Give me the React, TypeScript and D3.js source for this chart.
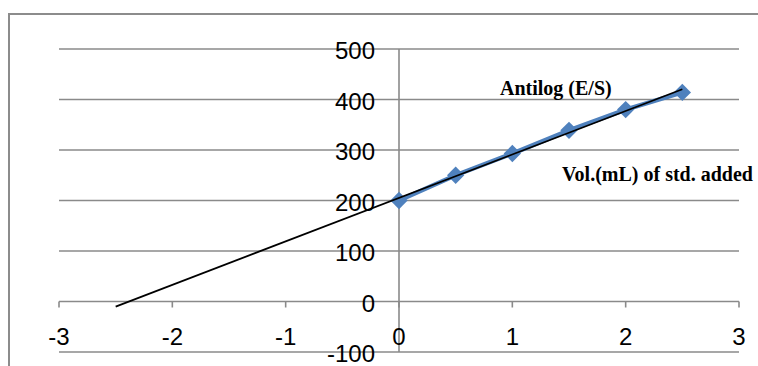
import React from "react";
import * as d3 from "d3";

const volumes = [0, 0.5, 1, 1.5, 2, 2.5];
const antilogValues = [200, 250, 293, 339, 380, 414];
const xTicks = [-3, -2, -1, 0, 1, 2, 3];
const yTicks = [-100, 0, 100, 200, 300, 400, 500];
const trendFrom = -2.5;
const trendTo = 2.5;
const seriesLabel = "Antilog (E/S)";
const axisLabel = "Vol.(mL) of std. added";

export default function App() {
  const W = 758;
  const H = 366;
  const x = d3.scaleLinear().domain([-3, 3]).range([59, 739]);
  const y = d3.scaleLinear().domain([-100, 500]).range([352, 49]);

  // linear regression for trendline
  const n = volumes.length;
  const mx = d3.mean(volumes) as number;
  const my = d3.mean(antilogValues) as number;
  let sxy = 0, sxx = 0;
  for (let i = 0; i < n; i++) {
    sxy += (volumes[i] - mx) * (antilogValues[i] - my);
    sxx += (volumes[i] - mx) ** 2;
  }
  const slope = sxy / sxx;
  const icpt = my - slope * mx;

  const pts: [number, number][] = volumes.map((v, i) => [v, antilogValues[i]]);
  const line = d3.line<[number, number]>().x((d) => x(d[0])).y((d) => y(d[1]));
  const diamond = d3.symbol().type(d3.symbolSquare).size(150)() as string;

  const grid = "#8a8a8a";

  return (
    <svg
      width={W}
      height={H}
      style={{ position: "absolute", left: 0, top: 0, background: "#fff" }}
    >
      <rect x={9} y={14} width={820} height={420} fill="#fff" stroke="#8c8c8c" strokeWidth={2} />
      {yTicks.map((t) => (
        <line key={"g" + t} x1={x(-3)} x2={x(3)} y1={y(t)} y2={y(t)} stroke={grid} strokeWidth={1.6} />
      ))}
      <line x1={x(0)} x2={x(0)} y1={y(500)} y2={y(-100)} stroke={grid} strokeWidth={1.6} />
      {xTicks.map((t) => (
        <line key={"t" + t} x1={x(t)} x2={x(t)} y1={y(0)} y2={y(0) + 6} stroke={grid} strokeWidth={1.6} />
      ))}
      {yTicks.map((t) => (
        <text
          key={"yl" + t}
          x={x(0) - 24}
          y={y(t) + 10}
          textAnchor="end"
          fontFamily="Liberation Sans, Arial, sans-serif"
          fontSize={24}
          fill="#000"
        >
          {t}
        </text>
      ))}
      {xTicks.map((t) => (
        <text
          key={"xl" + t}
          x={x(t)}
          y={345}
          textAnchor="middle"
          fontFamily="Liberation Sans, Arial, sans-serif"
          fontSize={24}
          fill="#000"
        >
          {t}
        </text>
      ))}
      <path d={line(pts) as string} fill="none" stroke="#4f81bd" strokeWidth={4.5} />
      {pts.map((p, i) => (
        <path key={"m" + i} d={diamond} transform={`translate(${x(p[0])},${y(p[1])}) rotate(45)`} fill="#4f81bd" />
      ))}
      <line
        x1={x(trendFrom)}
        y1={y(icpt + slope * trendFrom)}
        x2={x(trendTo)}
        y2={y(icpt + slope * trendTo)}
        stroke="#000"
        strokeWidth={1.8}
      />
      <text x={500} y={95} fontFamily="Liberation Serif, Times New Roman, serif" fontWeight="bold" fontSize={20} fill="#000">
        {seriesLabel}
      </text>
      <text x={562} y={180.5} fontFamily="Liberation Serif, Times New Roman, serif" fontWeight="bold" fontSize={20} fill="#000">
        {axisLabel}
      </text>
    </svg>
  );
}
